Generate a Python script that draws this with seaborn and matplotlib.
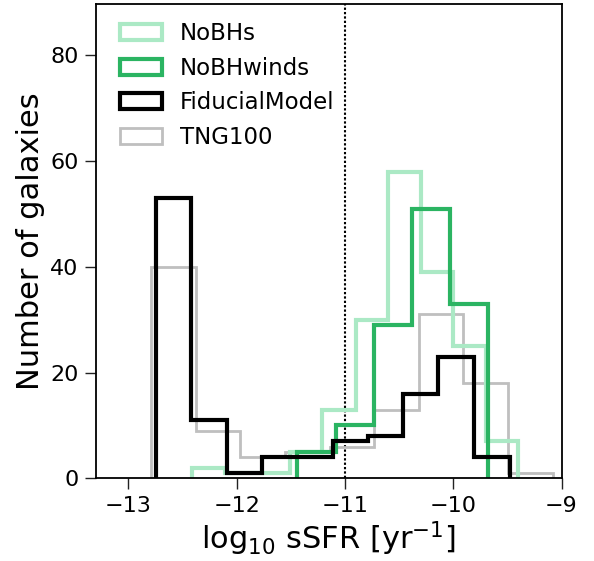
import numpy as np
import pandas as pd
import matplotlib
matplotlib.use("Agg")
import matplotlib.pyplot as plt
from matplotlib.patches import Patch
import seaborn as sns

# ---- data ----
labels = ["NoBHs", "NoBHwinds", "FiducialModel", "TNG100"]

nobhs_edges = [-12.41, -12.11, -11.81, -11.51, -11.21, -10.90, -10.60, -10.30, -10.00, -9.70, -9.40]
nobhs_counts = [2, 1, 1, 5, 13, 30, 58, 39, 25, 7]

nobhwinds_edges = [-11.44, -11.08, -10.73, -10.38, -10.03, -9.68]
nobhwinds_counts = [5, 10, 29, 51, 33]

fiducial_edges = [-12.75, -12.42, -12.09, -11.77, -11.44, -11.11, -10.79, -10.46, -10.14, -9.81, -9.48]
fiducial_counts = [53, 11, 1, 4, 4, 7, 8, 16, 23, 4]

tng_edges = [-12.79, -12.38, -11.97, -11.55, -11.14, -10.73, -10.32, -9.91, -9.49, -9.08]
tng_counts = [40, 9, 4, 5, 6, 13, 31, 18, 1]

ssfr_cut = -11.0
x_ticks = [-13, -12, -11, -10, -9]
y_ticks = [0, 20, 40, 60, 80]

# ---- style ----
sns.set_style("ticks")
plt.rcParams["font.family"] = ["DejaVu Sans"]
plt.rcParams["mathtext.default"] = "regular"
for k in ["text.color", "axes.labelcolor", "xtick.color", "ytick.color"]:
    plt.rcParams[k] = "black"

colors = {"NoBHs": "#abe9c5", "NoBHwinds": "#2bb462",
          "FiducialModel": "#000000", "TNG100": "#bfbfbf"}
widths = {"NoBHs": 3.0, "NoBHwinds": 3.0, "FiducialModel": 3.0, "TNG100": 2.0}

fig = plt.figure(figsize=(5.94, 5.61), dpi=100)
ax = fig.add_axes([96 / 594, 1 - 478.3 / 561, (561.5 - 96) / 594, (478.3 - 3.5) / 561])

series = [("TNG100", tng_edges, tng_counts),
          ("NoBHs", nobhs_edges, nobhs_counts),
          ("NoBHwinds", nobhwinds_edges, nobhwinds_counts),
          ("FiducialModel", fiducial_edges, fiducial_counts)]

for name, edges, counts in series:
    e = [float(v) for v in edges]
    centers = [(a + b) / 2 for a, b in zip(e[:-1], e[1:])]
    df = pd.DataFrame({"ssfr": centers, "n": [float(c) for c in counts]})
    sns.histplot(data=df, x="ssfr", weights="n", bins=e, element="step",
                 fill=False, color=colors[name], linewidth=widths[name], ax=ax)
    line = ax.lines[-1]
    xd, yd = np.asarray(line.get_xdata()), np.asarray(line.get_ydata())
    line.set_data(np.r_[xd[0], xd, xd[-1]], np.r_[0, yd, 0])
    line.set_solid_joinstyle("miter")
    line.set_solid_capstyle("butt")

ax.axvline(ssfr_cut, color="black", linestyle=(0, (1.1, 1.0)), linewidth=1.5, zorder=0.5)

ax.set_xlim(-13.3, -9)
ax.set_ylim(0, 89.8)
ax.set_xticks(x_ticks)
ax.set_yticks(y_ticks)
ax.set_xticklabels([f"\u2212{abs(t)}" for t in x_ticks])
ax.tick_params(axis="both", labelsize=16, length=8, width=1.0, color="#222222", pad=4.5)
for s in ax.spines.values():
    s.set_linewidth(1.3)
    s.set_color("black")

ax.set_xlabel(r"log$_{10}$ sSFR [yr$^{-1}$]", fontsize=22, labelpad=3)
ax.set_ylabel("Number of galaxies", fontsize=22, labelpad=4)

handles = [Patch(facecolor="white", edgecolor=colors[n], linewidth=widths[n]) for n in labels]
ax.legend(handles, labels, loc="upper left", frameon=False, fontsize=16.5,
          handlelength=1.83, handleheight=0.7, handletextpad=0.8, labelspacing=0.5,
          borderaxespad=0.3, borderpad=0.4, bbox_to_anchor=(0.017, 0.994))

fig.savefig("out.png", dpi=100)
